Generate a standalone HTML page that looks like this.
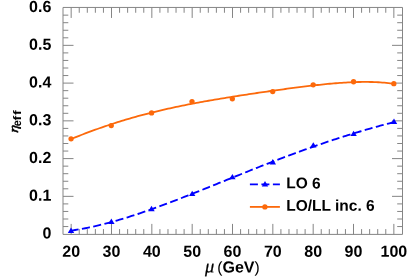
<!DOCTYPE html><html><head><meta charset="utf-8"><style>html,body{margin:0;padding:0;background:#fff}svg{display:block}text{font-family:"Liberation Sans",sans-serif;font-weight:bold;fill:#000;text-rendering:geometricPrecision}</style></head><body>
<svg width="415" height="277" viewBox="0 0 415 277">
<rect width="415" height="277" fill="#fff"/>
<path d="M63.00,7.45 H402.50 V234.40 H63.00 Z M71.17,234.40 v-10.50 M71.17,7.45 v10.50 M79.24,234.40 v-5.30 M79.24,7.45 v5.30 M87.31,234.40 v-5.30 M87.31,7.45 v5.30 M95.37,234.40 v-5.30 M95.37,7.45 v5.30 M103.44,234.40 v-5.30 M103.44,7.45 v5.30 M111.51,234.40 v-10.50 M111.51,7.45 v10.50 M119.57,234.40 v-5.30 M119.57,7.45 v5.30 M127.64,234.40 v-5.30 M127.64,7.45 v5.30 M135.71,234.40 v-5.30 M135.71,7.45 v5.30 M143.77,234.40 v-5.30 M143.77,7.45 v5.30 M151.84,234.40 v-10.50 M151.84,7.45 v10.50 M159.91,234.40 v-5.30 M159.91,7.45 v5.30 M167.97,234.40 v-5.30 M167.97,7.45 v5.30 M176.04,234.40 v-5.30 M176.04,7.45 v5.30 M184.11,234.40 v-5.30 M184.11,7.45 v5.30 M192.18,234.40 v-10.50 M192.18,7.45 v10.50 M200.24,234.40 v-5.30 M200.24,7.45 v5.30 M208.31,234.40 v-5.30 M208.31,7.45 v5.30 M216.38,234.40 v-5.30 M216.38,7.45 v5.30 M224.44,234.40 v-5.30 M224.44,7.45 v5.30 M232.51,234.40 v-10.50 M232.51,7.45 v10.50 M240.58,234.40 v-5.30 M240.58,7.45 v5.30 M248.64,234.40 v-5.30 M248.64,7.45 v5.30 M256.71,234.40 v-5.30 M256.71,7.45 v5.30 M264.78,234.40 v-5.30 M264.78,7.45 v5.30 M272.84,234.40 v-10.50 M272.84,7.45 v10.50 M280.91,234.40 v-5.30 M280.91,7.45 v5.30 M288.98,234.40 v-5.30 M288.98,7.45 v5.30 M297.04,234.40 v-5.30 M297.04,7.45 v5.30 M305.11,234.40 v-5.30 M305.11,7.45 v5.30 M313.18,234.40 v-10.50 M313.18,7.45 v10.50 M321.24,234.40 v-5.30 M321.24,7.45 v5.30 M329.31,234.40 v-5.30 M329.31,7.45 v5.30 M337.38,234.40 v-5.30 M337.38,7.45 v5.30 M345.44,234.40 v-5.30 M345.44,7.45 v5.30 M353.51,234.40 v-10.50 M353.51,7.45 v10.50 M361.58,234.40 v-5.30 M361.58,7.45 v5.30 M369.64,234.40 v-5.30 M369.64,7.45 v5.30 M377.71,234.40 v-5.30 M377.71,7.45 v5.30 M385.78,234.40 v-5.30 M385.78,7.45 v5.30 M393.85,234.40 v-10.50 M393.85,7.45 v10.50 M63.00,226.55 h5.30 M402.50,226.55 h-5.30 M63.00,219.00 h5.30 M402.50,219.00 h-5.30 M63.00,211.45 h5.30 M402.50,211.45 h-5.30 M63.00,203.90 h5.30 M402.50,203.90 h-5.30 M63.00,196.35 h10.50 M402.50,196.35 h-10.50 M63.00,188.80 h5.30 M402.50,188.80 h-5.30 M63.00,181.25 h5.30 M402.50,181.25 h-5.30 M63.00,173.70 h5.30 M402.50,173.70 h-5.30 M63.00,166.15 h5.30 M402.50,166.15 h-5.30 M63.00,158.60 h10.50 M402.50,158.60 h-10.50 M63.00,151.05 h5.30 M402.50,151.05 h-5.30 M63.00,143.50 h5.30 M402.50,143.50 h-5.30 M63.00,135.95 h5.30 M402.50,135.95 h-5.30 M63.00,128.40 h5.30 M402.50,128.40 h-5.30 M63.00,120.85 h10.50 M402.50,120.85 h-10.50 M63.00,113.30 h5.30 M402.50,113.30 h-5.30 M63.00,105.75 h5.30 M402.50,105.75 h-5.30 M63.00,98.20 h5.30 M402.50,98.20 h-5.30 M63.00,90.65 h5.30 M402.50,90.65 h-5.30 M63.00,83.10 h10.50 M402.50,83.10 h-10.50 M63.00,75.55 h5.30 M402.50,75.55 h-5.30 M63.00,68.00 h5.30 M402.50,68.00 h-5.30 M63.00,60.45 h5.30 M402.50,60.45 h-5.30 M63.00,52.90 h5.30 M402.50,52.90 h-5.30 M63.00,45.35 h10.50 M402.50,45.35 h-10.50 M63.00,37.80 h5.30 M402.50,37.80 h-5.30 M63.00,30.25 h5.30 M402.50,30.25 h-5.30 M63.00,22.70 h5.30 M402.50,22.70 h-5.30 M63.00,15.15 h5.30 M402.50,15.15 h-5.30" fill="none" stroke="#858585" stroke-width="1"/>
<g style="mix-blend-mode:multiply">
<text transform="rotate(0.04 51.3 238.55)" x="51.3" y="238.55" font-size="16" text-anchor="end">0</text>
<text transform="rotate(0.04 51.3 200.80)" x="51.3" y="200.80" font-size="16" text-anchor="end">0.1</text>
<text transform="rotate(0.04 51.3 163.05)" x="51.3" y="163.05" font-size="16" text-anchor="end">0.2</text>
<text transform="rotate(0.04 51.3 125.30)" x="51.3" y="125.30" font-size="16" text-anchor="end">0.3</text>
<text transform="rotate(0.04 51.3 87.55)" x="51.3" y="87.55" font-size="16" text-anchor="end">0.4</text>
<text transform="rotate(0.04 51.3 49.80)" x="51.3" y="49.80" font-size="16" text-anchor="end">0.5</text>
<text transform="rotate(0.04 51.3 12.05)" x="51.3" y="12.05" font-size="16" text-anchor="end">0.6</text>
<text transform="rotate(0.04 71.17 256.8)" x="71.17" y="256.8" font-size="16" text-anchor="middle">20</text>
<text transform="rotate(0.04 111.51 256.8)" x="111.51" y="256.8" font-size="16" text-anchor="middle">30</text>
<text transform="rotate(0.04 151.84 256.8)" x="151.84" y="256.8" font-size="16" text-anchor="middle">40</text>
<text transform="rotate(0.04 192.18 256.8)" x="192.18" y="256.8" font-size="16" text-anchor="middle">50</text>
<text transform="rotate(0.04 232.51 256.8)" x="232.51" y="256.8" font-size="16" text-anchor="middle">60</text>
<text transform="rotate(0.04 272.84 256.8)" x="272.84" y="256.8" font-size="16" text-anchor="middle">70</text>
<text transform="rotate(0.04 313.18 256.8)" x="313.18" y="256.8" font-size="16" text-anchor="middle">80</text>
<text transform="rotate(0.04 353.51 256.8)" x="353.51" y="256.8" font-size="16" text-anchor="middle">90</text>
<text transform="rotate(0.04 393.85 256.8)" x="393.85" y="256.8" font-size="16" text-anchor="middle">100</text>
<text transform="rotate(0.04 230 272.4)" x="205" y="272.4" font-size="16"><tspan font-family="Liberation Serif" font-style="italic" font-weight="normal" font-size="18.5" stroke="#000" stroke-width="0.25">μ</tspan><tspan x="217.3" font-weight="normal" font-size="15.5">(</tspan><tspan x="222.5">GeV</tspan><tspan x="254.5" font-weight="normal" font-size="15.5">)</tspan></text>
<g transform="translate(19.0,133.4) rotate(-90)">
<text transform="translate(0.4,-0.7) skewX(-6) scale(1.2,1)" x="0" y="0" style="font-family:'Liberation Serif',serif;font-style:italic;font-weight:normal;font-size:13px;stroke:#000;stroke-width:0.5px">η</text>
<text transform="translate(7.2,2.1) scale(0.9,1)" style="font-size:12px">e</text>
<text transform="translate(13.0,2.1) scale(1.3,1)" style="font-size:11px">f</text>
<text transform="translate(18.3,2.1) scale(1.3,1)" style="font-size:11px">f</text>
</g>
 <text transform="rotate(0.04 320 188.4)" x="286.2" y="188.4" font-size="15.5">LO 6</text>
<text transform="rotate(0.04 320 210.8)" x="286.2" y="210.8" font-size="15.5">LO/LL inc. 6</text>
</g>
<path d="M71.08,139.03 L73.10,138.21 L75.12,137.40 L77.14,136.60 L79.16,135.80 L81.18,135.02 L83.20,134.23 L85.23,133.46 L87.25,132.70 L89.27,131.94 L91.29,131.19 L93.31,130.45 L95.33,129.72 L97.35,128.99 L99.37,128.27 L101.39,127.57 L103.41,126.87 L105.43,126.17 L107.45,125.49 L109.47,124.82 L111.50,124.15 L113.52,123.49 L115.54,122.84 L117.56,122.20 L119.58,121.57 L121.60,120.94 L123.62,120.33 L125.64,119.72 L127.66,119.12 L129.68,118.53 L131.70,117.94 L133.72,117.37 L135.74,116.80 L137.76,116.24 L139.79,115.69 L141.81,115.14 L143.83,114.61 L145.85,114.08 L147.87,113.55 L149.89,113.04 L151.91,112.53 L153.93,112.03 L155.95,111.54 L157.97,111.05 L159.99,110.57 L162.01,110.10 L164.03,109.63 L166.06,109.17 L168.08,108.72 L170.10,108.27 L172.12,107.83 L174.14,107.39 L176.16,106.96 L178.18,106.54 L180.20,106.12 L182.22,105.70 L184.24,105.29 L186.26,104.89 L188.28,104.49 L190.30,104.10 L192.32,103.71 L194.35,103.32 L196.37,102.94 L198.39,102.57 L200.41,102.20 L202.43,101.83 L204.45,101.47 L206.47,101.11 L208.49,100.75 L210.51,100.40 L212.53,100.05 L214.55,99.70 L216.57,99.36 L218.59,99.02 L220.62,98.68 L222.64,98.35 L224.66,98.02 L226.68,97.69 L228.70,97.36 L230.72,97.04 L232.74,96.71 L234.76,96.40 L236.78,96.08 L238.80,95.76 L240.82,95.45 L242.84,95.14 L244.86,94.83 L246.89,94.52 L248.91,94.22 L250.93,93.91 L252.95,93.61 L254.97,93.31 L256.99,93.01 L259.01,92.71 L261.03,92.42 L263.05,92.12 L265.07,91.83 L267.09,91.54 L269.11,91.25 L271.13,90.97 L273.16,90.68 L275.18,90.40 L277.20,90.11 L279.22,89.83 L281.24,89.55 L283.26,89.28 L285.28,89.00 L287.30,88.73 L289.32,88.46 L291.34,88.19 L293.36,87.93 L295.38,87.66 L297.40,87.40 L299.42,87.15 L301.45,86.89 L303.47,86.64 L305.49,86.39 L307.51,86.15 L309.53,85.91 L311.55,85.67 L313.57,85.44 L315.59,85.21 L317.61,84.99 L319.63,84.77 L321.65,84.56 L323.67,84.35 L325.69,84.15 L327.72,83.96 L329.74,83.77 L331.76,83.59 L333.78,83.41 L335.80,83.24 L337.82,83.08 L339.84,82.93 L341.86,82.79 L343.88,82.66 L345.90,82.53 L347.92,82.42 L349.94,82.32 L351.96,82.22 L353.99,82.14 L356.01,82.08 L358.03,82.02 L360.05,81.98 L362.07,81.95 L364.09,81.93 L366.11,81.93 L368.13,81.94 L370.15,81.98 L372.17,82.02 L374.19,82.09 L376.21,82.17 L378.23,82.27 L380.25,82.39 L382.28,82.53 L384.30,82.70 L386.32,82.88 L388.34,83.09 L390.36,83.31 L392.38,83.57 L394.40,83.85" fill="none" stroke="#fc690b" stroke-width="1.8"/>
<path d="M71.08,230.62 L73.10,230.32 L75.12,230.01 L77.14,229.68 L79.16,229.34 L81.18,228.98 L83.20,228.61 L85.23,228.22 L87.25,227.82 L89.27,227.40 L91.29,226.98 L93.31,226.53 L95.33,226.08 L97.35,225.61 L99.37,225.13 L101.39,224.64 L103.41,224.14 L105.43,223.62 L107.45,223.10 L109.47,222.56 L111.50,222.01 L113.52,221.45 L115.54,220.88 L117.56,220.30 L119.58,219.71 L121.60,219.11 L123.62,218.50 L125.64,217.88 L127.66,217.26 L129.68,216.62 L131.70,215.98 L133.72,215.33 L135.74,214.66 L137.76,214.00 L139.79,213.32 L141.81,212.64 L143.83,211.95 L145.85,211.25 L147.87,210.55 L149.89,209.84 L151.91,209.12 L153.93,208.40 L155.95,207.67 L157.97,206.93 L159.99,206.19 L162.01,205.45 L164.03,204.70 L166.06,203.94 L168.08,203.19 L170.10,202.42 L172.12,201.65 L174.14,200.88 L176.16,200.11 L178.18,199.33 L180.20,198.54 L182.22,197.76 L184.24,196.97 L186.26,196.17 L188.28,195.38 L190.30,194.58 L192.32,193.78 L194.35,192.98 L196.37,192.17 L198.39,191.36 L200.41,190.56 L202.43,189.75 L204.45,188.93 L206.47,188.12 L208.49,187.31 L210.51,186.49 L212.53,185.68 L214.55,184.86 L216.57,184.04 L218.59,183.22 L220.62,182.41 L222.64,181.59 L224.66,180.77 L226.68,179.95 L228.70,179.13 L230.72,178.32 L232.74,177.50 L234.76,176.68 L236.78,175.87 L238.80,175.06 L240.82,174.24 L242.84,173.43 L244.86,172.62 L246.89,171.81 L248.91,171.00 L250.93,170.20 L252.95,169.39 L254.97,168.59 L256.99,167.79 L259.01,166.99 L261.03,166.20 L263.05,165.40 L265.07,164.61 L267.09,163.82 L269.11,163.04 L271.13,162.25 L273.16,161.47 L275.18,160.70 L277.20,159.92 L279.22,159.15 L281.24,158.38 L283.26,157.61 L285.28,156.85 L287.30,156.09 L289.32,155.34 L291.34,154.59 L293.36,153.84 L295.38,153.09 L297.40,152.35 L299.42,151.61 L301.45,150.88 L303.47,150.15 L305.49,149.43 L307.51,148.70 L309.53,147.99 L311.55,147.27 L313.57,146.57 L315.59,145.86 L317.61,145.16 L319.63,144.46 L321.65,143.77 L323.67,143.08 L325.69,142.40 L327.72,141.72 L329.74,141.05 L331.76,140.38 L333.78,139.71 L335.80,139.05 L337.82,138.40 L339.84,137.75 L341.86,137.10 L343.88,136.46 L345.90,135.82 L347.92,135.19 L349.94,134.56 L351.96,133.94 L353.99,133.32 L356.01,132.71 L358.03,132.10 L360.05,131.50 L362.07,130.90 L364.09,130.31 L366.11,129.72 L368.13,129.13 L370.15,128.55 L372.17,127.98 L374.19,127.41 L376.21,126.84 L378.23,126.28 L380.25,125.73 L382.28,125.18 L384.30,124.63 L386.32,124.09 L388.34,123.55 L390.36,123.02 L392.38,122.49 L394.40,121.97" fill="none" stroke="#0000ff" stroke-width="1.85" stroke-dasharray="8.1 3.435" stroke-dashoffset="0.55"/>
<circle cx="71.06" cy="138.80" r="2.65" fill="#fc690b"/>
<circle cx="111.25" cy="125.60" r="2.65" fill="#fc690b"/>
<circle cx="151.57" cy="112.90" r="2.65" fill="#fc690b"/>
<circle cx="192.00" cy="101.60" r="2.65" fill="#fc690b"/>
<circle cx="232.35" cy="98.87" r="2.65" fill="#fc690b"/>
<circle cx="272.70" cy="91.57" r="2.65" fill="#fc690b"/>
<circle cx="313.20" cy="84.85" r="2.65" fill="#fc690b"/>
<circle cx="353.55" cy="81.76" r="2.65" fill="#fc690b"/>
<circle cx="393.84" cy="83.71" r="2.65" fill="#fc690b"/>
<path d="M71.00,227.50 L74.20,232.90 L67.80,232.90 Z" fill="#0000ff"/>
<path d="M111.35,218.50 L114.55,223.90 L108.15,223.90 Z" fill="#0000ff"/>
<path d="M151.50,205.80 L154.70,211.20 L148.30,211.20 Z" fill="#0000ff"/>
<path d="M192.20,190.70 L195.40,196.10 L189.00,196.10 Z" fill="#0000ff"/>
<path d="M232.40,173.90 L235.60,179.30 L229.20,179.30 Z" fill="#0000ff"/>
<path d="M272.80,159.10 L276.00,164.50 L269.60,164.50 Z" fill="#0000ff"/>
<path d="M313.30,142.20 L316.50,147.60 L310.10,147.60 Z" fill="#0000ff"/>
<path d="M353.60,130.70 L356.80,136.10 L350.40,136.10 Z" fill="#0000ff"/>
<path d="M394.00,118.50 L397.20,123.90 L390.80,123.90 Z" fill="#0000ff"/>
<path d="M249.9,184.4 H279.9" stroke="#0000ff" stroke-width="1.85" stroke-dasharray="8 3.5" fill="none"/>
<path d="M265.00,181.00 L268.20,186.40 L261.80,186.40 Z" fill="#0000ff"/>
<path d="M249.9,206.9 H279.9" stroke="#fc690b" stroke-width="1.8" fill="none"/>
<circle cx="264.9" cy="206.9" r="2.65" fill="#fc690b"/>
</svg></body></html>
